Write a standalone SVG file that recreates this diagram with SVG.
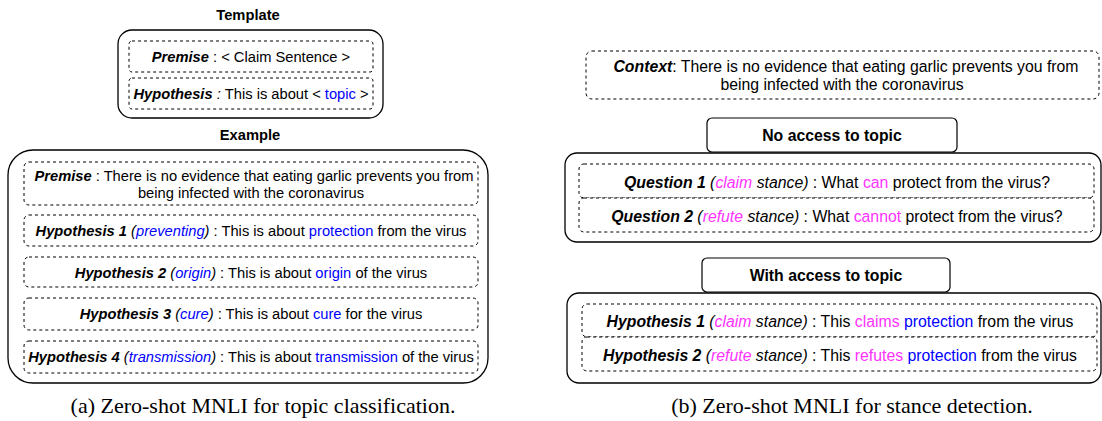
<svg xmlns="http://www.w3.org/2000/svg" width="1102" height="421" viewBox="0 0 1102 421">
<style>
.bg{fill:#ffffff}
.outer{fill:#ffffff;stroke:#000000;stroke-width:1.3}
.dash{fill:#ffffff;stroke:#000000;stroke-width:1;stroke-dasharray:3 3}
.solid{fill:#ffffff;stroke:#000000;stroke-width:1.2}
.t{font-family:"Liberation Sans",Arial,sans-serif;font-size:14.7px;fill:#000000;text-anchor:middle}
.r{font-family:"Liberation Sans",Arial,sans-serif;font-size:15.8px;fill:#000000;text-anchor:middle}
.ttl{font-weight:bold}
.bi{font-weight:bold;font-style:italic}
.i{font-style:italic}
.b{fill:#0000ff}
.m{fill:#ff33ff}
.cap{font-family:"Liberation Serif","Times New Roman",serif;font-size:22px;fill:#000000;text-anchor:middle}
</style>
<rect class="bg" x="0" y="0" width="1102" height="421"/>

<g id="template-title"><text class="t ttl" x="248" y="20">Template</text></g>
<g id="template">
<rect class="outer" x="118" y="30" width="265" height="88" rx="14"/>
</g>
<g id="template-premise">
<rect class="dash" x="129" y="41" width="244" height="31" rx="3"/>
<text class="t" x="251" y="62"><tspan class="bi">Premise</tspan> : &lt; Claim Sentence &gt;</text>
</g>
<g id="template-hypothesis">
<rect class="dash" x="129" y="78" width="244" height="31" rx="3"/>
<text class="t" x="251" y="99"><tspan class="bi">Hypothesis</tspan><tspan class="i"> : </tspan>This is about &lt; <tspan class="b">topic</tspan> &gt;</text>
</g>

<g id="example-title"><text class="t ttl" x="250" y="140">Example</text></g>
<g id="example">
<rect class="outer" x="8" y="150" width="480" height="233" rx="25"/>
</g>
<g id="example-premise">
<rect class="dash" x="24" y="162" width="454" height="43" rx="5"/>
<text class="t" x="254" y="181"><tspan class="bi">Premise</tspan> : There is no evidence that eating garlic prevents you from</text>
<text class="t" x="251" y="198">being infected with the coronavirus</text>
</g>
<g id="example-h1">
<rect class="dash" x="24" y="215" width="454" height="31" rx="5"/>
<text class="t" x="251" y="236"><tspan class="bi">Hypothesis 1</tspan><tspan class="i"> (<tspan class="b">preventing</tspan>)</tspan> : This is about <tspan class="b">protection</tspan> from the virus</text>
</g>
<g id="example-h2">
<rect class="dash" x="24" y="257" width="454" height="30" rx="5"/>
<text class="t" x="251" y="278"><tspan class="bi">Hypothesis 2</tspan><tspan class="i"> (<tspan class="b">origin</tspan>)</tspan> : This is about <tspan class="b">origin</tspan> of the virus</text>
</g>
<g id="example-h3">
<rect class="dash" x="24" y="298" width="454" height="32" rx="5"/>
<text class="t" x="251" y="319"><tspan class="bi">Hypothesis 3</tspan><tspan class="i"> (<tspan class="b">cure</tspan>)</tspan> : This is about <tspan class="b">cure</tspan> for the virus</text>
</g>
<g id="example-h4">
<rect class="dash" x="24" y="341" width="454" height="32" rx="5"/>
<text class="t" x="251" y="362"><tspan class="bi">Hypothesis 4</tspan><tspan class="i"> (<tspan class="b">transmission</tspan>)</tspan> : This is about <tspan class="b">transmission</tspan> of the virus</text>
</g>
<g id="caption-a"><text class="cap" x="263" y="413">(a) Zero-shot MNLI for topic classification.</text></g>

<g id="context">
<rect class="dash" x="586" y="51" width="513" height="48" rx="6"/>
<text class="r" x="846" y="72"><tspan class="bi">Context</tspan>: There is no evidence that eating garlic prevents you from</text>
<text class="r" x="842" y="89.5">being infected with the coronavirus</text>
</g>
<g id="no-access">
<rect class="solid" x="707" y="118" width="250" height="34" rx="5"/>
<text class="r ttl" x="832" y="141">No access to topic</text>
</g>
<g id="questions">
<rect class="outer" x="565" y="153" width="536" height="89" rx="12"/>
</g>
<g id="question-1">
<rect class="dash" x="579" y="164" width="515" height="34" rx="5"/>
<text class="r" x="837" y="187.5"><tspan class="bi">Question 1</tspan><tspan class="i"> (<tspan class="m">claim</tspan> stance)</tspan> : What <tspan class="m">can</tspan> protect from the virus?</text>
</g>
<g id="question-2">
<rect class="dash" x="579" y="198" width="515" height="34" rx="5"/>
<text class="r" x="837" y="221.5"><tspan class="bi">Question 2</tspan><tspan class="i"> (<tspan class="m">refute</tspan> stance)</tspan> : What <tspan class="m">cannot</tspan> protect from the virus?</text>
</g>
<g id="with-access">
<rect class="solid" x="702" y="258" width="248" height="34" rx="5"/>
<text class="r ttl" x="826" y="281">With access to topic</text>
</g>
<g id="hypotheses">
<rect class="outer" x="567" y="293" width="534" height="90" rx="12"/>
</g>
<g id="hypothesis-1">
<rect class="dash" x="582" y="304" width="515" height="33" rx="5"/>
<text class="r" x="840" y="327"><tspan class="bi">Hypothesis 1</tspan><tspan class="i"> (<tspan class="m">claim</tspan> stance)</tspan> : This <tspan class="m">claims</tspan> <tspan class="b">protection</tspan> from the virus</text>
</g>
<g id="hypothesis-2">
<rect class="dash" x="582" y="337" width="515" height="34" rx="5"/>
<text class="r" x="840" y="361"><tspan class="bi">Hypothesis 2</tspan><tspan class="i"> (<tspan class="m">refute</tspan> stance)</tspan> : This <tspan class="m">refutes</tspan> <tspan class="b">protection</tspan> from the virus</text>
</g>
<g id="caption-b"><text class="cap" x="852" y="413">(b) Zero-shot MNLI for stance detection.</text></g>
</svg>
